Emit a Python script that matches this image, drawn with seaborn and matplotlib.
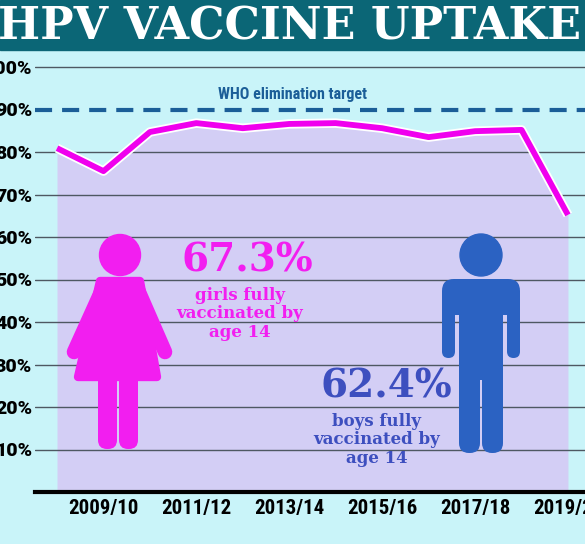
import matplotlib
matplotlib.use("Agg")
import matplotlib.pyplot as plt
import matplotlib.patheffects as pe
import pandas as pd
import seaborn as sns
from matplotlib import font_manager
from matplotlib.patches import Circle, FancyBboxPatch, Polygon, Rectangle


SEASONS = ["2008/09", "2009/10", "2010/11", "2011/12", "2012/13", "2013/14",
           "2014/15", "2015/16", "2016/17", "2017/18", "2018/19", "2019/20"]
GIRLS_UPTAKE = [80.9, 75.5, 84.7, 86.8, 85.6, 86.6, 86.8, 85.6, 83.5, 84.9, 85.2, 65.2]
LABELLED_SEASONS = ["2009/10", "2011/12", "2013/14", "2015/16", "2017/18", "2019/20"]
Y_TICKS = [10, 20, 30, 40, 50, 60, 70, 80, 90, 100]
WHO_TARGET = 90
GIRLS_FULL = 67.3
BOYS_FULL = 62.4

BG = "#c9f4f9"
BANNER = "#0b6676"
FILL = "#d3cef5"
MAGENTA = "#f000ee"
GIRL_PINK = "#f21ef0"
BOY_BLUE = "#2b62c2"
BOY_TEXT = "#3d4fbf"
WHO_BLUE = "#1b5e98"
GRID = "#4e5862"


def pick_font(candidates):
    names = {f.name for f in font_manager.fontManager.ttflist}
    for name in candidates:
        if name in names:
            return name
    return "DejaVu Sans"


def draw_girl(ax, cx, color):
    ax.add_patch(Circle((cx, 255), 20.5, color=color, zorder=5))
    ax.add_patch(Polygon([(cx - 20, 281), (cx + 20, 281), (cx + 37, 377), (cx - 42, 377)],
                         closed=True, color=color, joinstyle="round", lw=6, zorder=5))
    ax.plot([cx - 18, cx - 46], [290, 352], color=color, lw=10.5,
            solid_capstyle="round", zorder=5)
    ax.plot([cx + 18, cx + 45], [290, 352], color=color, lw=10.5,
            solid_capstyle="round", zorder=5)
    for lx in (cx - 22, cx - 1):
        ax.add_patch(FancyBboxPatch((lx, 365), 19, 84, boxstyle="round,pad=0,rounding_size=9",
                                    color=color, lw=0, zorder=5))


def draw_boy(ax, cx, color):
    ax.add_patch(Circle((cx, 255), 21, color=color, zorder=5))
    ax.add_patch(FancyBboxPatch((cx - 39, 279), 78, 36, boxstyle="round,pad=0,rounding_size=12",
                                color=color, lw=0, zorder=5))
    for arm_x in (cx - 39, cx + 26):
        ax.add_patch(FancyBboxPatch((arm_x, 290), 13, 68, boxstyle="round,pad=0,rounding_size=6.5",
                                    color=color, lw=0, zorder=5))
    ax.add_patch(Rectangle((cx - 22, 295), 44, 85, color=color, lw=0, zorder=5))
    for lx in (cx - 22, cx + 1):
        ax.add_patch(FancyBboxPatch((lx, 370), 21, 83, boxstyle="round,pad=0,rounding_size=10",
                                    color=color, lw=0, zorder=5))


def main():
    sns.set_style("white")
    sans = pick_font(["Roboto", "Lato", "Open Sans", "DejaVu Sans"])
    narrow = pick_font(["Liberation Sans Narrow", "Roboto Condensed", "DejaVu Sans Condensed", sans])
    slab = pick_font(["DejaVu Serif Condensed", "DejaVu Serif"])
    plt.rcParams["font.family"] = [sans, "DejaVu Sans"]

    df = pd.DataFrame({"season": SEASONS, "uptake": GIRLS_UPTAKE})
    df["pos"] = range(len(df))

    fig = plt.figure(figsize=(5.85, 5.44), dpi=100, facecolor=BG)
    fig.patches.append(Rectangle((0, 494 / 544), 1, 50 / 544, transform=fig.transFigure,
                                 color=BANNER, zorder=0))
    fig.text(0.495, 0.951, "HPV VACCINE UPTAKE", ha="center", va="center", color="white",
             fontsize=32, fontweight="bold", family=slab)

    ax = fig.add_axes([35 / 585, 52 / 544, 550 / 585, 442 / 544])
    ax.set_facecolor("none")

    ax.fill_between(df["pos"], df["uptake"], 0, color=FILL, lw=0, zorder=1)
    for y in Y_TICKS:
        if y != WHO_TARGET:
            ax.axhline(y, color=GRID, lw=1.0, zorder=2)
    ax.axhline(WHO_TARGET, color=WHO_BLUE, lw=3, linestyle=(0, (4.1, 2.4)), zorder=3)
    ax.text(5.06, 93.6, "WHO elimination target", ha="center", va="center",
            color=WHO_BLUE, fontsize=11.5, fontweight="bold", family=narrow)

    sns.lineplot(data=df, x="pos", y="uptake", color=MAGENTA, lw=4.2, ax=ax, zorder=4)
    ax.lines[-1].set_path_effects([pe.Stroke(linewidth=6.8, foreground="white"), pe.Normal()])
    ax.lines[-1].set_solid_capstyle("butt")

    ax.set_xlim(-0.474, 11.367)
    ax.set_ylim(0, 104)
    ax.set_xticks([SEASONS.index(s) for s in LABELLED_SEASONS])
    ax.set_xticklabels(LABELLED_SEASONS, fontsize=15, fontweight="bold", family=narrow,
                       color="black")
    ax.set_yticks(Y_TICKS)
    ax.set_yticklabels([f"{y}%" for y in Y_TICKS], fontsize=14, fontweight="heavy",
                       color="black")
    ax.tick_params(axis="both", length=0)
    ax.tick_params(axis="x", pad=5)
    ax.tick_params(axis="y", pad=2)
    ax.set_xlabel("")
    ax.set_ylabel("")
    for side in ("top", "left", "right"):
        ax.spines[side].set_visible(False)
    ax.spines["bottom"].set_linewidth(3)
    ax.spines["bottom"].set_color("black")

    ov = fig.add_axes([0, 0, 1, 1])
    ov.set_xlim(0, 585)
    ov.set_ylim(544, 0)
    ov.axis("off")
    ov.patch.set_alpha(0)

    draw_girl(ov, 120, GIRL_PINK)
    draw_boy(ov, 481, BOY_BLUE)

    ov.text(247, 261, f"{GIRLS_FULL}%", ha="center", va="center", color=GIRL_PINK,
            fontsize=28, fontweight="bold", family=slab)
    ov.text(240, 314, "girls fully\nvaccinated by\nage 14", ha="center", va="center",
            color=GIRL_PINK, fontsize=12, fontweight="bold", family=slab, linespacing=1.12)
    ov.text(386, 387, f"{BOYS_FULL}%", ha="center", va="center", color=BOY_TEXT,
            fontsize=28, fontweight="bold", family=slab)
    ov.text(377, 440, "boys fully\nvaccinated by\nage 14", ha="center", va="center",
            color=BOY_TEXT, fontsize=12, fontweight="bold", family=slab, linespacing=1.12)

    fig.savefig("out.png", dpi=100, facecolor=BG)


if __name__ == "__main__":
    main()
